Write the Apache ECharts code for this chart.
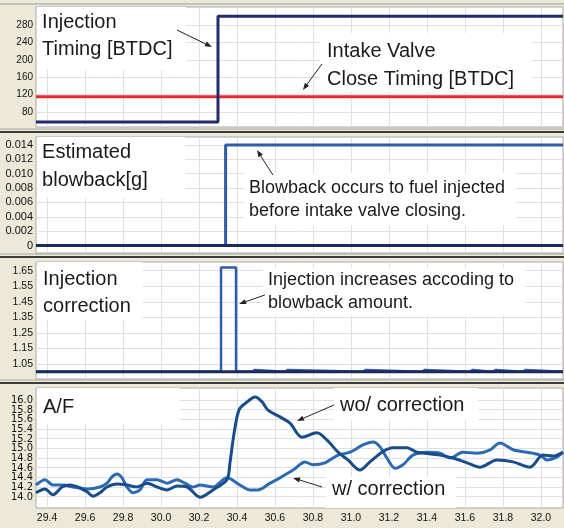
<!DOCTYPE html>
<html><head><meta charset="utf-8">
<script src="https://cdn.jsdelivr.net/npm/echarts@6/dist/echarts.min.js"></script>
<style>html,body{margin:0;padding:0;background:#ECE9D8}#c{width:564px;height:528px}</style>
</head><body><div id="c"></div>
<script>
// ---- data ----
const xTicks = [29.4,29.6,29.8,30.0,30.2,30.4,30.6,30.8,31.0,31.2,31.4,31.6,31.8,32.0];
const timingTicks = [80,120,160,200,240,280];
const blowTicks = [0,0.002,0.004,0.006,0.008,0.010,0.012,0.014];
const corrTicks = [1.05,1.15,1.25,1.35,1.45,1.55,1.65];
const afTicks = [14.0,14.2,14.4,14.6,14.8,15.0,15.2,15.4,15.6,15.8,16.0];

const injTimingT = [29.342, 30.30, 32.116];
const injTimingV = [57, 300, 300];
const ivcT = [29.342, 32.116];
const ivcV = [115, 115];

const blowT = [29.342, 30.34, 32.116];
const blowV = [0, 0.014, 0.014];
const blowBaseT = [29.342, 32.116];
const blowBaseV = [0, 0];

const corrT = [29.342,30.316,30.395,30.479,30.494,30.653,30.668,31.063,31.078,31.374,31.389,31.626,31.641,31.747,31.762,31.905,31.920,32.116];
const corrV = [1.0,1.67,1.0,1.012,1.0,1.012,1.0,1.012,1.0,1.012,1.0,1.012,1.0,1.012,1.0,1.012,1.0,1.0];
const corrBaseT = [29.342, 32.116];
const corrBaseV = [1.0, 1.0];

const afWoT = [29.342,29.389,29.432,29.479,29.521,29.574,29.611,29.642,29.679,29.716,29.768,29.821,29.874,29.926,29.979,30.032,30.084,30.137,30.205,30.274,30.347,30.363,30.379,30.400,30.416,30.453,30.495,30.532,30.563,30.626,30.679,30.742,30.821,30.874,30.932,30.984,31.047,31.100,31.163,31.221,31.295,31.347,31.389,31.468,31.537,31.611,31.679,31.768,31.853,31.942,32.011,32.063,32.116];
const afWoV = [14.08,14.16,14.04,14.20,14.24,14.18,14.10,14.01,14.08,14.20,14.26,14.24,14.20,14.28,14.20,14.14,14.22,14.20,13.99,14.14,14.35,14.70,15.17,15.65,15.83,15.96,16.06,15.96,15.79,15.65,15.52,15.23,15.32,15.17,14.92,14.76,14.55,14.72,14.92,15.01,15.01,14.92,14.90,14.86,14.80,14.70,14.61,14.76,14.72,14.61,14.86,14.84,14.92];
const afWT = [29.342,29.389,29.432,29.484,29.537,29.611,29.679,29.716,29.742,29.768,29.795,29.821,29.853,29.889,29.926,29.979,30.032,30.084,30.126,30.168,30.205,30.274,30.347,30.416,30.468,30.511,30.574,30.626,30.695,30.758,30.800,30.863,30.932,30.995,31.063,31.116,31.153,31.189,31.232,31.274,31.326,31.400,31.468,31.521,31.589,31.663,31.732,31.784,31.853,31.926,31.995,32.032,32.084,32.116];
const afWV = [14.24,14.35,14.24,14.24,14.20,14.16,14.20,14.28,14.41,14.47,14.39,14.20,14.08,14.14,14.35,14.35,14.28,14.35,14.28,14.20,14.24,14.20,14.39,14.24,14.14,14.14,14.28,14.39,14.55,14.72,14.66,14.70,14.86,14.92,15.07,15.13,15.03,14.80,14.59,14.66,14.86,14.92,14.90,14.80,14.92,14.90,14.97,15.11,14.97,14.92,14.86,14.76,14.82,14.92];

// ---- layout ----
const X_MIN = 29.342, X_MAX = 32.116;
const grids = [
  {top: 7, height: 120, yMin: 45.5, yMax: 321.4, ticks: timingTicks, fmt: v => String(Math.round(v)), font: 10, lh: 12, family: '"Liberation Sans", Arial, sans-serif'},
  {top: 137, height: 116, yMin: -0.001045, yMax: 0.015114, ticks: blowTicks, fmt: v => v === 0 ? '0' : v.toFixed(3), font: 11, lh: 12, family: '"Liberation Sans", Arial, sans-serif'},
  {top: 262, height: 117, yMin: 0.9535, yMax: 1.7059, ticks: corrTicks, fmt: v => v.toFixed(2), font: 10.5, lh: 12, family: '"Liberation Sans", Arial, sans-serif'},
  {top: 388, height: 120, yMin: 13.766, yMax: 16.248, ticks: afTicks, fmt: v => v.toFixed(1), font: 11, lh: 9, family: '"Liberation Sans Narrow", "DejaVu Sans Condensed", "Arial Narrow", sans-serif'}
];

const zip = (t, v) => t.map((x, i) => [x, v[i]]);
const gridColor = '#E0E0E0';

const option = {
  backgroundColor: '#ECE9D8',
  animation: false,
  grid: grids.map(g => ({left: 36, right: 1, top: g.top, height: g.height, show: true, backgroundColor: '#ffffff', borderColor: '#A8A8A8', borderWidth: 1})),
  xAxis: grids.map((g, i) => ({
    type: 'value', gridIndex: i, min: X_MIN, max: X_MAX,
    axisLine: {show: false},
    axisTick: {show: false, customValues: xTicks},
    axisLabel: {show: i === 3, customValues: xTicks, formatter: v => v.toFixed(1), fontSize: 10.5, color: '#111', margin: 5, fontFamily: '"Liberation Sans", Arial, sans-serif'},
    splitLine: {show: true, lineStyle: {color: gridColor, width: 1}}
  })),
  yAxis: grids.map((g, i) => {
    // empty placeholder labels at the axis ends keep every real tick label visible
    const labelValues = [g.yMin + 1e-9, ...g.ticks, g.yMax - 1e-9];
    const isReal = v => g.ticks.some(t => Math.abs(t - v) < 1e-7);
    return {
      type: 'value', gridIndex: i, min: g.yMin, max: g.yMax,
      axisLine: {show: false},
      axisTick: {show: false, customValues: g.ticks},
      axisLabel: {customValues: labelValues, formatter: v => isReal(v) ? g.fmt(v) : '', fontSize: g.font, lineHeight: g.lh, color: '#111', margin: 3, fontFamily: g.family},
      splitLine: {show: true, lineStyle: {color: gridColor, width: 1}}
    };
  }),
  series: [
    {type: 'line', xAxisIndex: 0, yAxisIndex: 0, data: zip(ivcT, ivcV), symbol: 'none', lineStyle: {color: '#E8282A', width: 3}},
    {type: 'line', xAxisIndex: 0, yAxisIndex: 0, data: zip(injTimingT, injTimingV), step: 'end', symbol: 'none', lineStyle: {color: '#1F2D6E', width: 3}},
    {type: 'line', xAxisIndex: 1, yAxisIndex: 1, data: zip(blowT, blowV), step: 'end', symbol: 'none', lineStyle: {color: '#2D5DA8', width: 3}},
    {type: 'line', xAxisIndex: 1, yAxisIndex: 1, data: zip(blowBaseT, blowBaseV), symbol: 'none', lineStyle: {color: '#1B2A5C', width: 3}},
    {type: 'line', xAxisIndex: 2, yAxisIndex: 2, data: zip(corrT, corrV), step: 'end', symbol: 'none', lineStyle: {color: '#2D5DA8', width: 2.5}},
    {type: 'line', xAxisIndex: 2, yAxisIndex: 2, data: zip(corrBaseT, corrBaseV), symbol: 'none', lineStyle: {color: '#1B2A5C', width: 3}},
    {type: 'line', name: 'w/ correction', xAxisIndex: 3, yAxisIndex: 3, data: zip(afWT, afWV), smooth: 0.3, symbol: 'none', lineStyle: {color: '#2C6AB3', width: 3}},
    {type: 'line', name: 'wo/ correction', xAxisIndex: 3, yAxisIndex: 3, data: zip(afWoT, afWoV), smooth: 0.3, symbol: 'none', lineStyle: {color: '#184C8A', width: 3}}
  ]
};

const chart = echarts.init(document.getElementById('c'), null, {renderer: 'canvas'});
chart.setOption(option);

// ---- annotations (data coordinates of each panel) ----
const notes = [
  {g: 0, box: [29.348, 321.4, 30.132, 176.6], at: [29.374, 316.8], text: 'Injection\nTiming [BTDC]', size: 20, lh: 27},
  {g: 0, box: [30.837, 261.6, 31.953, 126.0], at: [30.874, 252.4], text: 'Intake Valve\nClose Timing [BTDC]', size: 20, lh: 28},
  {g: 1, box: [29.348, 0.015114, 30.126, 0.006617], at: [29.374, 0.014905], text: 'Estimated\nblowback[g]', size: 20, lh: 28},
  {g: 1, box: [30.437, 0.010099, 31.868, 0.002856], at: [30.463, 0.009542], text: 'Blowback occurs to fuel injected\nbefore intake valve closing.', size: 18, lh: 23},
  {g: 2, box: [29.348, 1.7059, 29.9, 1.333], at: [29.379, 1.680], text: 'Injection\ncorrection', size: 20, lh: 27},
  {g: 2, box: [30.537, 1.667, 31.916, 1.359], at: [30.563, 1.661], text: 'Injection increases accoding to\nblowback amount.', size: 18, lh: 23},
  {g: 3, box: [29.348, 16.248, 30.1, 15.504], at: [29.379, 16.114], text: 'A/F', size: 20, lh: 27},
  {g: 3, box: [30.911, 16.248, 31.668, 15.586], at: [30.942, 16.165], text: 'wo/ correction', size: 20, lh: 27},
  {g: 3, box: [30.868, 14.407, 31.553, 13.766], at: [30.9, 14.428], text: 'w/ correction', size: 20, lh: 27}
];
const arrows = [
  {g: 0, from: [30.084, 268.5], to: [30.268, 229.4]},
  {g: 0, from: [30.847, 190.3], to: [30.747, 130.6]},
  {g: 1, from: [30.589, 0.009821], to: [30.505, 0.013303]},
  {g: 2, from: [30.547, 1.494], to: [30.411, 1.436]},
  {g: 3, from: [30.911, 15.897], to: [30.716, 15.566]},
  {g: 3, from: [30.847, 14.201], to: [30.695, 14.387]}
];

const P = (g, p) => chart.convertToPixel({gridIndex: g}, p);
const graphics = [];
notes.forEach(n => {
  const a = P(n.g, [n.box[0], n.box[1]]), b = P(n.g, [n.box[2], n.box[3]]);
  graphics.push({type: 'rect', z: 1, silent: true, shape: {x: Math.round(a[0]), y: Math.round(a[1]), width: Math.round(b[0] - a[0]), height: Math.round(b[1] - a[1])}, style: {fill: '#ffffff'}});
  const t = P(n.g, n.at);
  graphics.push({type: 'text', z: 10, silent: true, x: t[0], y: t[1], style: {text: n.text, font: n.size + 'px "Liberation Sans", Arial, sans-serif', fill: '#1a1a1a', lineHeight: n.lh, verticalAlign: 'top', align: 'left'}});
});
arrows.forEach(ar => {
  const s = P(ar.g, ar.from), e = P(ar.g, ar.to);
  const ang = Math.atan2(e[1] - s[1], e[0] - s[0]);
  const L = 7, W = 2.6;
  const bx = e[0] - L * Math.cos(ang), by = e[1] - L * Math.sin(ang);
  graphics.push({type: 'line', z: 10, silent: true, shape: {x1: s[0], y1: s[1], x2: bx, y2: by}, style: {stroke: '#222', lineWidth: 1}});
  graphics.push({type: 'polygon', z: 10, silent: true, shape: {points: [[e[0], e[1]], [bx + W * Math.sin(ang), by - W * Math.cos(ang)], [bx - W * Math.sin(ang), by + W * Math.cos(ang)]]}, style: {fill: '#222'}});
});
// panel separators (window frame decoration)
[4, 131, 256, 382].forEach((y, i) => {
  if (i === 0) {
    graphics.push({type: 'line', z: 5, silent: true, shape: {x1: 0, y1: y, x2: 564, y2: y}, style: {stroke: '#9C9C9C', lineWidth: 1}});
  } else {
    graphics.push({type: 'line', z: 5, silent: true, shape: {x1: 0, y1: y - 2, x2: 564, y2: y - 2}, style: {stroke: '#A8A8A0', lineWidth: 1}});
    graphics.push({type: 'line', z: 5, silent: true, shape: {x1: 0, y1: y + 1, x2: 564, y2: y + 1}, style: {stroke: '#3C3C3C', lineWidth: 2}});
  }
});
chart.setOption({graphic: graphics});
</script>
</body></html>
